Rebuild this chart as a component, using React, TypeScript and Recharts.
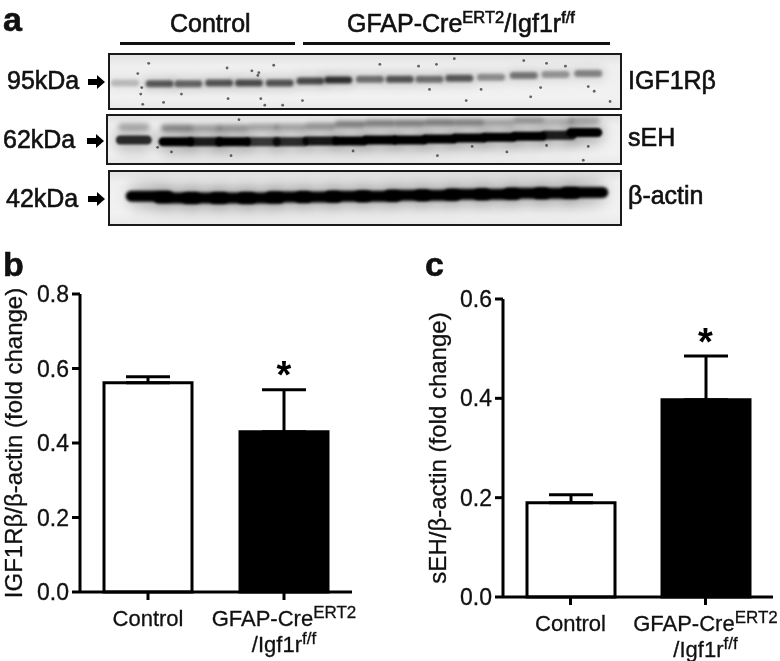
import React from 'react';
import {
  BarChart, Bar, Cell, ErrorBar, XAxis, YAxis, Label, ReferenceDot,
  ScatterChart, Scatter,
} from 'recharts';

const FONT = '"Liberation Sans", Arial, sans-serif';

const categories = ['Control', 'GFAP'];

const igf1rMeans = [0.562, 0.43];
const igf1rErrors = [0.016, 0.113];
const igf1rTicks = [0, 0.2, 0.4, 0.6, 0.8];

const sehMeans = [0.19, 0.397];
const sehErrors = [0.016, 0.088];
const sehTicks = [0, 0.2, 0.4, 0.6];

const barFills = ['#ffffff', '#000000'];

const igf1rLaneX = [15, 50, 79, 110, 140, 171, 202, 230, 262, 292, 322, 352, 384, 417, 449, 482];
const igf1rLaneY = [30, 31, 31, 30, 30, 30, 28, 27, 26, 26, 26, 25, 24, 22, 21, 20];
const igf1rLaneI = [0.2, 0.6, 0.55, 0.62, 0.65, 0.62, 0.66, 0.78, 0.5, 0.62, 0.5, 0.6, 0.38, 0.48, 0.35, 0.42];

const sehLaneX = [26, 69, 98, 126, 156, 184, 214, 244, 274, 304, 334, 364, 394, 424, 454, 480];
const sehUpperY = [12, 13, 13, 13, 12, 12, 11, 9, 8, 8, 7, 7, 7, 5, 6, 5];
const sehUpperI = [0.25, 0.4, 0.28, 0.32, 0.28, 0.28, 0.35, 0.45, 0.45, 0.45, 0.45, 0.42, 0.25, 0.32, 0.18, 0.2];
const sehLowerY = [26, 28, 28, 28, 28, 28, 27, 27, 26, 26, 25, 24, 23, 22, 21, 18];
const sehLowerI = [0.8, 1, 0.85, 1, 0.72, 0.78, 0.88, 1, 1, 1, 1, 1, 1, 1, 0.85, 1];

const actinLaneX = [40, 68, 96, 124, 152, 180, 210, 240, 270, 300, 330, 360, 390, 420, 450, 478];
const actinLaneY = [26, 28, 28, 28, 28, 27, 27, 26, 26, 25, 25, 24, 24, 23, 23, 22];

const igf1rSpecksX = [39, 28, 32, 31, 118, 143, 150, 149, 165, 152, 156, 119, 72, 33, 54, 272, 311, 329, 347, 417, 440, 459, 322, 374, 359, 424, 482, 488, 504, 194, 174, 434];
const igf1rSpecksY = [9, 20, 35, 42, 14, 17, 19, 22, 11, 47, 54, 47, 42, 53, 51, 10, 12, 10, 4, 6, 9, 12, 37, 37, 49, 45, 34, 39, 50, 49, 54, 35];
const sehSpecksX = [64, 50, 124, 247, 402, 442, 484, 479, 367, 332, 132];
const sehSpecksY = [39, 34, 43, 38, 39, 32, 33, 48, 33, 43, 4];

const zip = (xs: number[], ys: number[], is?: number[]) =>
  xs.map((x, i) => ({ x, y: ys[i], i: is ? is[i] : 1 }));

const bandShape = (w: number, h: number, blur: number, scale = 1) => (p: any) => (
  <rect
    x={p.cx - w / 2}
    y={p.cy - h / 2}
    width={w}
    height={h}
    rx={h / 2}
    fill="#000"
    fillOpacity={p.payload.i * scale}
    style={{ filter: `blur(${blur}px)` }}
  />
);

const speckShape = (p: any) => (
  <circle cx={p.cx} cy={p.cy} r={1.4} fill="#333" fillOpacity={0.75} style={{ filter: 'blur(0.4px)' }} />
);

function Blot({ left, top, width, height, series }: any) {
  return (
    <div
      style={{
        position: 'absolute', left, top, width, height, boxSizing: 'border-box',
        border: '2.2px solid #1a1a1a', overflow: 'hidden',
        background: 'linear-gradient(#e2e2e2, #efefef 20%, #f1f1f1 80%, #e9e9e9)',
      }}
    >
      <ScatterChart
        width={width - 4}
        height={height - 4}
        margin={{ top: 0, right: 0, bottom: 0, left: 0 }}
      >
        <XAxis type="number" dataKey="x" domain={[0, width]} hide />
        <YAxis type="number" dataKey="y" domain={[0, height]} reversed hide />
        {series.map((s: any, i: number) => (
          <Scatter key={i} data={s.data} shape={s.shape} isAnimationActive={false} />
        ))}
      </ScatterChart>
    </div>
  );
}

const CategoryTick = ({ x, y, payload }: any) => {
  const common = { textAnchor: 'middle' as const, fontFamily: FONT, fontSize: 22, fill: '#111', stroke: '#111', strokeWidth: 0.3 };
  if (payload.value === 'Control') {
    return <text x={x} y={y + 24} {...common}>Control</text>;
  }
  return (
    <g>
      <text x={x} y={y + 24} {...common}>
        GFAP-Cre<tspan dy={-8} fontSize={17}>ERT2</tspan>
      </text>
      <text x={x} y={y + 50} {...common}>
        /Igf1r<tspan dy={-8} fontSize={17}>f/f</tspan>
      </text>
    </g>
  );
};

function BarPanel({ left, top, width, height, axisWidth, plotTop, xHeight, right, means, errors, ticks, title, titleX, titleSize, starY }: any) {
  const rows = categories.map((name, i) => ({ name, mean: means[i], err: [0, errors[i]] }));
  return (
    <div style={{ position: 'absolute', left, top }}>
      <BarChart
        width={width}
        height={height}
        data={rows}
        margin={{ top: plotTop, right, bottom: 0, left: 0 }}
      >
        <XAxis
          dataKey="name"
          height={xHeight}
          interval={0}
          tick={<CategoryTick />}
          tickSize={8}
          axisLine={{ stroke: '#000', strokeWidth: 3 }}
          tickLine={{ stroke: '#000', strokeWidth: 3 }}
        />
        <YAxis
          width={axisWidth}
          domain={[0, ticks[ticks.length - 1]]}
          ticks={ticks}
          interval={0}
          tickSize={8}
          tickMargin={3}
          tickFormatter={(v: number) => v.toFixed(1)}
          tick={{ fontFamily: FONT, fontSize: 23, fill: '#111', stroke: '#111', strokeWidth: 0.3 }}
          axisLine={{ stroke: '#000', strokeWidth: 3 }}
          tickLine={{ stroke: '#000', strokeWidth: 3 }}
        >
          <Label
            content={({ viewBox }: any) => {
              const cy = viewBox.y + viewBox.height / 2;
              return (
                <text
                  x={titleX}
                  y={cy}
                  transform={`rotate(-90 ${titleX} ${cy})`}
                  textAnchor="middle"
                  dominantBaseline="central"
                  fontFamily={FONT}
                  fontSize={titleSize}
                  fill="#111"
                  stroke="#111"
                  strokeWidth={0.3}
                >
                  {title}
                </text>
              );
            }}
          />
        </YAxis>
        <Bar dataKey="mean" barSize={88} stroke="#000" strokeWidth={3} isAnimationActive={false}>
          {rows.map((r, i) => <Cell key={r.name} fill={barFills[i]} />)}
          <ErrorBar dataKey="err" width={22} stroke="#000" strokeWidth={3} isAnimationActive={false} />
        </Bar>
        <ReferenceDot
          x={categories[1]}
          y={starY}
          r={0}
          fill="none"
          stroke="none"
          label={{ value: '*', position: 'center', fontFamily: FONT, fontSize: 38, fontWeight: 700, fill: '#000' }}
        />
      </BarChart>
    </div>
  );
}

const Arrow = ({ left, top }: any) => (
  <svg style={{ position: 'absolute', left, top }} width={18} height={14}>
    <polygon points="0,4 9,4 9,0 17,7 9,14 9,10 0,10" fill="#000" />
  </svg>
);

const txt = (left: number, top: number, size: number, children: any, weight = 400, stroke = 0.6) => (
  <div
    style={{
      position: 'absolute', left, top, fontFamily: FONT, fontSize: size, lineHeight: 1, fontWeight: weight,
      color: '#111', WebkitTextStroke: `${stroke}px #111`, whiteSpace: 'nowrap',
    }}
  >
    {children}
  </div>
);

const Sup = ({ children }: any) => (
  <span style={{ fontSize: '0.66em', position: 'relative', top: '-0.55em' }}>{children}</span>
);

export default function App() {
  return (
    <div style={{ position: 'absolute', left: 0, top: 0, width: 780, height: 661, background: '#fff', overflow: 'hidden', filter: 'blur(0.35px)' }}>
      {txt(3, 2, 34, 'a', 700)}
      {txt(3, 247, 34, 'b', 700)}
      {txt(425, 247, 34, 'c', 700)}

      {txt(170, 11, 25, 'Control')}
      {txt(347, 11, 25, <>GFAP-Cre<Sup>ERT2</Sup>/Igf1r<Sup>f/f</Sup></>)}
      <div style={{ position: 'absolute', left: 120, top: 42, width: 175, height: 3, background: '#111' }} />
      <div style={{ position: 'absolute', left: 303, top: 42, width: 307, height: 3, background: '#111' }} />

      {txt(7, 68, 25, '95kDa')}
      {txt(3, 127, 25, '62kDa')}
      {txt(6, 186, 25, '42kDa')}
      <Arrow left={88} top={75} />
      <Arrow left={87} top={134} />
      <Arrow left={88} top={192} />

      <Blot
        left={108} top={53} width={514} height={57}
        series={[
          { data: zip(igf1rLaneX, igf1rLaneY, igf1rLaneI), shape: bandShape(36, 16, 4, 0.18) },
          { data: zip(igf1rLaneX, igf1rLaneY, igf1rLaneI), shape: bandShape(28, 7, 1.4) },
          { data: zip(igf1rSpecksX, igf1rSpecksY), shape: speckShape },
        ]}
      />
      <Blot
        left={106} top={114} width={516} height={51}
        series={[
          { data: zip(sehLaneX, sehLowerY, sehLowerI), shape: bandShape(40, 26, 6, 0.22) },
          { data: zip(sehLaneX, sehUpperY, sehUpperI), shape: bandShape(31, 7, 2) },
          { data: zip(sehLaneX, sehLowerY, sehLowerI), shape: bandShape(36, 9, 1.3) },
          { data: zip(sehSpecksX, sehSpecksY), shape: speckShape },
        ]}
      />
      <Blot
        left={108} top={170} width={514} height={56}
        series={[
          { data: zip(actinLaneX, actinLaneY), shape: bandShape(42, 26, 7, 0.22) },
          { data: zip(actinLaneX, actinLaneY), shape: bandShape(48, 11, 1.6) },
        ]}
      />

      {txt(628, 68, 25, 'IGF1Rβ')}
      {txt(628, 125, 25, 'sEH')}
      {txt(628, 183, 25, 'β-actin')}

      <BarPanel
        left={0} top={270} width={400} height={391}
        axisWidth={80} plotTop={24} xHeight={69} right={48}
        means={igf1rMeans} errors={igf1rErrors} ticks={igf1rTicks}
        title="IGF1Rβ/β-actin (fold change)" titleX={13} titleSize={24} starY={0.585}
      />
      <BarPanel
        left={400} top={270} width={380} height={391}
        axisWidth={103} plotTop={29} xHeight={64} right={7}
        means={sehMeans} errors={sehErrors} ticks={sehTicks}
        title="sEH/β-actin (fold change)" titleX={37} titleSize={24} starY={0.515}
      />
    </div>
  );
}
